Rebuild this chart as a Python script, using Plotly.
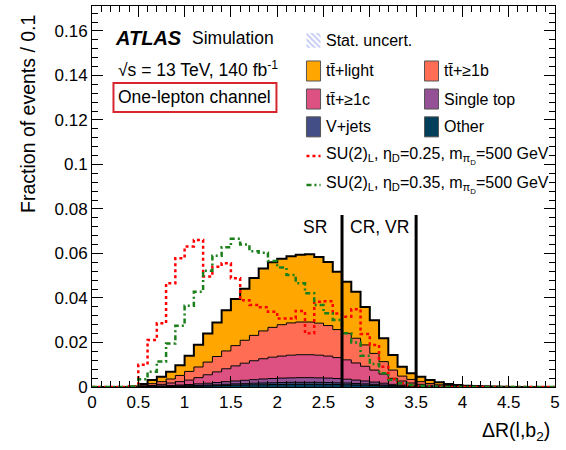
import numpy as np
import plotly.graph_objects as go

# ---- binning: Delta R(l, b2) in 0.1 wide bins from 0 to 5 ----
bin_edges = np.round(np.linspace(0.0, 5.0, 51), 2)

# ---- background fractions per bin (stacked, bottom to top) ----
other = [0, 0, 0, 0, 0,
         0.0001, 0.0001, 0.0001, 0.0002, 0.0002,
         0.0003, 0.0004, 0.0005, 0.0006, 0.0007,
         0.0008, 0.0009, 0.0010, 0.0010, 0.0011,
         0.0011, 0.0012, 0.0012, 0.0012, 0.0012,
         0.0011, 0.0011, 0.0010, 0.0009, 0.0008,
         0.0007, 0.0005, 0.0004, 0.0003, 0.0002,
         0.0001, 0.0001, 0, 0, 0,
         0, 0, 0, 0, 0, 0, 0, 0, 0, 0]

vjets = [0, 0, 0, 0, 0,
         0, 0.0001, 0.0002, 0.0002, 0.0003,
         0.0003, 0.0003, 0.0004, 0.0004, 0.0005,
         0.0006, 0.0006, 0.0007, 0.0008, 0.0008,
         0.0009, 0.0009, 0.0009, 0.0009, 0.0009,
         0.0009, 0.0008, 0.0008, 0.0007, 0.0006,
         0.0005, 0.0004, 0.0003, 0.0002, 0.0001,
         0.0001, 0, 0.0001, 0, 0,
         0, 0, 0, 0, 0, 0, 0, 0, 0, 0]

single_top = [0, 0, 0, 0, 0,
              0.0001, 0.0001, 0.0002, 0.0003, 0.0004,
              0.0005, 0.0007, 0.0008, 0.0010, 0.0012,
              0.0013, 0.0015, 0.0016, 0.0018, 0.0019,
              0.0020, 0.0020, 0.0021, 0.0021, 0.0020,
              0.0020, 0.0019, 0.0017, 0.0015, 0.0013,
              0.0010, 0.0008, 0.0005, 0.0004, 0.0003,
              0.0002, 0.0002, 0.0001, 0.0001, 0,
              0, 0, 0, 0, 0, 0, 0, 0, 0, 0]

tt_1c = [0, 0, 0, 0, 0,
         0.0002, 0.0004, 0.0007, 0.0011, 0.0015,
         0.0020, 0.0028, 0.0038, 0.0048, 0.0058,
         0.0068, 0.0077, 0.0085, 0.0091, 0.0096,
         0.0099, 0.0102, 0.0103, 0.0103, 0.0102,
         0.0099, 0.0094, 0.0087, 0.0077, 0.0066,
         0.0054, 0.0041, 0.0027, 0.0018, 0.0012,
         0.0008, 0.0005, 0.0003, 0.0002, 0.0002,
         0.0001, 0, 0, 0, 0, 0, 0, 0, 0, 0]

tt_1b = [0, 0, 0, 0, 0,
         0.0004, 0.0008, 0.0012, 0.0018, 0.0028,
         0.0039, 0.0048, 0.0057, 0.0069, 0.0080,
         0.0091, 0.0103, 0.0114, 0.0125, 0.0134,
         0.0141, 0.0145, 0.0147, 0.0147, 0.0144,
         0.0137, 0.0126, 0.0119, 0.0111, 0.0096,
         0.0075, 0.0056, 0.0037, 0.0022, 0.0016,
         0.0012, 0.0008, 0.0005, 0.0004, 0.0003,
         0.0002, 0.0002, 0.00015, 0.0001, 0,
         0, 0, 0, 0, 0]

tt_light = [0, 0, 0, 0, 0.0002,
            0.0005, 0.0016, 0.0022, 0.0033, 0.0046,
            0.0070, 0.0100, 0.0128, 0.0153, 0.0183,
            0.0209, 0.0232, 0.0258, 0.0280, 0.0292,
            0.0296, 0.0299, 0.0302, 0.0304, 0.0297,
            0.0286, 0.0260, 0.0232, 0.0209, 0.0171,
            0.0149, 0.0105, 0.0068, 0.0042, 0.0028,
            0.0022, 0.0015, 0.0011, 0.0006, 0.0004,
            0.0003, 0.0002, 0.00015, 0.0001, 0.0001,
            0.00005, 0.00005, 0, 0, 0]

# ---- signal shapes ----
sig_eta025 = [0, 0, 0, 0, 0.0003,
              0.0100, 0.0211, 0.0286, 0.0466, 0.0578,
              0.0631, 0.0661, 0.0496, 0.0540, 0.0556,
              0.0489, 0.0390, 0.0369, 0.0358, 0.0338,
              0.0308, 0.0308, 0.0342, 0.0241, 0.0383,
              0.0385, 0.0330, 0.0316, 0.0349, 0.0238,
              0.0189, 0.0091, 0.0035, 0.0017, 0.0008,
              0.0003, 0.0002, 0.0001, 0, 0,
              0, 0, 0, 0, 0, 0, 0, 0, 0, 0]

sig_eta035 = [0, 0, 0, 0, 0.0002,
              0.0035, 0.0069, 0.0115, 0.0195, 0.0275,
              0.0365, 0.0428, 0.0522, 0.0590, 0.0628,
              0.0666, 0.0640, 0.0610, 0.0603, 0.0566,
              0.0537, 0.0503, 0.0466, 0.0421, 0.0369,
              0.0331, 0.0301, 0.0241, 0.0200, 0.0140,
              0.0103, 0.0062, 0.0031, 0.0017, 0.0009,
              0.0004, 0.0002, 0.0001, 0, 0,
              0, 0, 0, 0, 0, 0, 0, 0, 0, 0]

# region boundaries (SR | CR, VR)
region_cuts = [2.7, 3.5]

backgrounds = [
    ("Other", other, "#003f5c"),
    ("V+jets", vjets, "#444e86"),
    ("Single top", single_top, "#955196"),
    ("tt̄+≥1c", tt_1c, "#dd5182"),
    ("tt̄+≥1b", tt_1b, "#ff6e54"),
    ("tt̄+light", tt_light, "#ffa600"),
]

FONT = "Liberation Sans, Arial, Helvetica, sans-serif"


def step_xy(values):
    x = list(bin_edges)
    y = list(values) + [values[-1]]
    return x, y


fig = go.Figure()

# stacked backgrounds
cum = np.zeros(len(bin_edges) - 1)
for i, (name, vals, color) in enumerate(backgrounds):
    cum = cum + np.array(vals)
    x, y = step_xy(cum)
    top = i == len(backgrounds) - 1
    fig.add_trace(go.Scatter(
        x=x, y=y, mode="lines", name=name,
        line=dict(shape="hv", color="black", width=2 if top else 1),
        fill="tozeroy" if i == 0 else "tonexty",
        fillcolor=color, showlegend=False, hoverinfo="skip",
    ))

# signals
x, y = step_xy(sig_eta025)
fig.add_trace(go.Scatter(x=x, y=y, mode="lines", showlegend=False,
                         line=dict(shape="hv", color="#ff0000", width=2.5, dash="dot")))
x, y = step_xy(sig_eta035)
fig.add_trace(go.Scatter(x=x, y=y, mode="lines", showlegend=False,
                         line=dict(shape="hv", color="#1b7f1b", width=2.5,
                                   dash="5px,3px,2px,3px")))

shapes = []
annotations = []

# region separators
for xc in region_cuts:
    shapes.append(dict(type="line", xref="x", yref="y", x0=xc, x1=xc, y0=0, y1=0.0773,
                       line=dict(color="black", width=3), layer="above"))
annotations.append(dict(x=2.41, y=0.0719, xref="x", yref="y", text="SR", showarrow=False,
                        font=dict(size=17.5, color="black", family=FONT)))
annotations.append(dict(x=3.1, y=0.0719, xref="x", yref="y", text="CR, VR", showarrow=False,
                        font=dict(size=17.5, color="black", family=FONT)))

# ATLAS label block
annotations.append(dict(x=0.232, y=0.1569, xref="x", yref="y", xanchor="left", showarrow=False,
                        text="<b><i>ATLAS</i></b>", font=dict(size=20, color="black", family=FONT)))
annotations.append(dict(x=1.06, y=0.1569, xref="x", yref="y", xanchor="left", showarrow=False,
                        text="Simulation", font=dict(size=17.5, color="black", family=FONT)))
annotations.append(dict(x=0.262, y=0.1429, xref="x", yref="y", xanchor="left", showarrow=False,
                        text="√s = 13 TeV, 140 fb<sup>-1</sup>",
                        font=dict(size=17.5, color="black", family=FONT)))
annotations.append(dict(x=0.262, y=0.1302, xref="x", yref="y", xanchor="left", showarrow=False,
                        text="One-lepton channel", font=dict(size=17.5, color="black", family=FONT)))
shapes.append(dict(type="rect", xref="x", yref="y", x0=0.232, x1=1.992, y0=0.1236, y1=0.1366,
                   line=dict(color="#d8262e", width=2), fillcolor="rgba(0,0,0,0)"))

# legend: stat. uncert. hatched swatch
fig.add_trace(go.Scatter(
    x=[2.316, 2.468, 2.468, 2.316, 2.316], y=[0.1524, 0.1524, 0.1591, 0.1591, 0.1524],
    mode="lines", line=dict(width=0, color="rgba(0,0,0,0)"), fill="toself",
    fillcolor="white", fillpattern=dict(shape="\\", fgcolor="#7f90ea", bgcolor="white",
                                        size=4, solidity=0.45),
    showlegend=False, hoverinfo="skip"))
annotations.append(dict(x=2.50, y=0.1556, xref="x", yref="y", xanchor="left", showarrow=False,
                        text="Stat. uncert.", font=dict(size=16, color="black", family=FONT)))

# legend: background swatches (two columns)
legend_cols = [(2.316, 2.468, 2.50), (3.591, 3.742, 3.775)]
legend_rows = [0.1420, 0.1294, 0.1169]
legend_order = [("tt̄+light", "#ffa600"), ("tt̄+≥1b", "#ff6e54"),
                ("tt̄+≥1c", "#dd5182"), ("Single top", "#955196"),
                ("V+jets", "#444e86"), ("Other", "#003f5c")]
for k, (label, color) in enumerate(legend_order):
    cx0, cx1, tx = legend_cols[k % 2]
    yc = legend_rows[k // 2]
    shapes.append(dict(type="rect", xref="x", yref="y", x0=cx0, x1=cx1,
                       y0=yc - 0.0045, y1=yc + 0.0045, fillcolor=color,
                       line=dict(color="#555555", width=1), layer="above"))
    annotations.append(dict(x=tx, y=yc, xref="x", yref="y", xanchor="left", showarrow=False,
                            text=label, font=dict(size=16, color="black", family=FONT)))

# legend: signal lines
fig.add_trace(go.Scatter(x=[2.316, 2.468], y=[0.1038, 0.1038], mode="lines", showlegend=False,
                         line=dict(color="#ff0000", width=2.5, dash="dot"), hoverinfo="skip"))
fig.add_trace(go.Scatter(x=[2.316, 2.468], y=[0.0908, 0.0908], mode="lines", showlegend=False,
                         line=dict(color="#1b7f1b", width=2.5, dash="5px,3px,2px,3px"),
                         hoverinfo="skip"))
annotations.append(dict(x=2.50, y=0.1036, xref="x", yref="y", xanchor="left", showarrow=False,
                        text="SU(2)<sub>L</sub>, η<sub>D</sub>=0.25, m<sub>π<sub>D</sub></sub>=500 GeV",
                        font=dict(size=16, color="black", family=FONT)))
annotations.append(dict(x=2.50, y=0.0906, xref="x", yref="y", xanchor="left", showarrow=False,
                        text="SU(2)<sub>L</sub>, η<sub>D</sub>=0.35, m<sub>π<sub>D</sub></sub>=500 GeV",
                        font=dict(size=16, color="black", family=FONT)))

# axis titles
annotations.append(dict(x=-0.138, y=0.982, xref="paper", yref="paper", xanchor="center",
                        yanchor="top", textangle=-90, showarrow=False,
                        text="Fraction of events / 0.1",
                        font=dict(size=19.5, color="black", family=FONT)))
annotations.append(dict(x=0.994, y=-0.118, xref="paper", yref="paper", xanchor="right",
                        yanchor="middle", showarrow=False, text="ΔR(l,b<sub>2</sub>)",
                        font=dict(size=19.5, color="black", family=FONT)))

axis_common = dict(
    showgrid=False, zeroline=False, showline=True, linecolor="black", linewidth=1,
    mirror="allticks", ticks="inside", ticklen=11, tickwidth=1, tickcolor="black",
    tickfont=dict(size=17, color="black", family=FONT),
)

fig.update_layout(
    width=566, height=450,
    margin=dict(l=92, r=11, t=6, b=63),
    paper_bgcolor="white", plot_bgcolor="white",
    showlegend=False,
    shapes=shapes, annotations=annotations,
    xaxis=dict(range=[0, 5], dtick=0.5, tick0=0,
               minor=dict(dtick=0.1, ticks="inside", ticklen=6, tickcolor="black", showgrid=False),
               **axis_common),
    yaxis=dict(range=[0, 0.1712], dtick=0.02, tick0=0,
               minor=dict(dtick=0.004, ticks="inside", ticklen=6, tickcolor="black", showgrid=False),
               **axis_common),
)

fig.write_html("out.html")
